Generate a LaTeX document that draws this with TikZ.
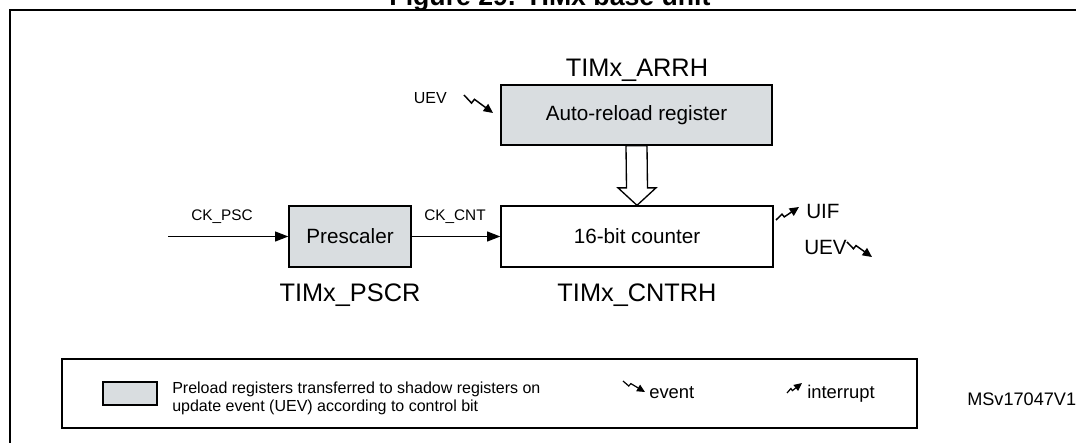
\documentclass[tikz,border=0pt]{standalone}
\usepackage{fontspec}
\setmainfont{Liberation Sans}
\usetikzlibrary{arrows.meta,calc}
\definecolor{regfill}{RGB}{217,221,224}
\begin{document}
\begin{tikzpicture}[x=0.75pt,y=-0.75pt,
  regbox/.style={draw=black, line width=1pt, minimum width=#1, minimum height=45.75pt, inner sep=0pt, font=\fontsize{15.5}{18}\selectfont},
  bigname/.style={font=\fontsize{19}{22}\selectfont, inner sep=0pt},
  sig/.style={font=\fontsize{11.5}{13}\selectfont, inner sep=0pt},
  flag/.style={font=\fontsize{15.5}{18}\selectfont, inner sep=0pt},
  legtext/.style={font=\fontsize{12}{14}\selectfont, inner sep=0pt, anchor=base west},
  legkey/.style={font=\fontsize{13.8}{16}\selectfont, inner sep=0pt, anchor=base west},
  conn/.style={line width=1pt, -{Triangle[length=10pt,width=7.5pt]}},
  zz/.style={line width=1.1pt, line join=miter, -{Triangle[length=7pt,width=6.5pt]}},
  zzs/.style={line width=0.9pt, line join=miter, -{Triangle[length=6pt,width=5.5pt]}},
  evtsym/.pic={\draw[zz] (0,0) -- (0.26,0.45) -- (0.36,0.24) -- (1,1);},
  intsym/.pic={\draw[zz] (0,0) -- (0.26,-0.45) -- (0.36,-0.24) -- (1,-1);},
  evtsmall/.pic={\draw[zzs] (0,0) -- (0.26,0.45) -- (0.36,0.24) -- (1,1);},
  intsmall/.pic={\draw[zzs] (0,0) -- (0.26,-0.45) -- (0.36,-0.24) -- (1,-1);}
]
\useasboundingbox (0,0) rectangle (1076,443);
\clip (0,0) rectangle (1076,443);
\fill[white] (0,0) rectangle (1076,443);

% title (cut at the top, as in the reference) and frame
\node[font=\bfseries\fontsize{20}{24}\selectfont, anchor=base, inner sep=0pt] (title) at (550,5.5) {Figure 29. TIMx base unit};
\draw[line width=1.75pt] (10,460) -- (10,10) -- (1100,10);

% registers
\node[regbox=203.25pt, minimum height=45pt, fill=regfill] (arr) at (636.5,115) {Auto-reload register};
\node[regbox=204pt, fill=white] (cnt) at (637,236.5) {16-bit counter};
\node[regbox=91.5pt, fill=regfill] (psc) at (350,236.5) {Prescaler};

\node[bigname] (arrname) at (637,70) {TIMx\_ARRH};
\node[bigname] (pscname) at (350,295) {TIMx\_PSCR};
\node[bigname] (cntname) at (637,295) {TIMx\_CNTRH};

% hollow transfer arrow
\draw[line width=1pt, fill=white, line join=miter]
  ($(arr.south)+(-10.5,0)$) -- ($(arr.south)+(10.5,0)$) -- ($(cnt.north)+(10.5,-17.5)$)
  -- ($(cnt.north)+(19,-17.5)$) -- (cnt.north) -- ($(cnt.north)+(-19,-17.5)$)
  -- ($(cnt.north)+(-10.5,-17.5)$) -- cycle;

% clock connectors
\coordinate (ckin) at (168,236.5);
\draw[conn] (ckin) -- (psc.west);
\draw[conn] (psc.east) -- (cnt.west);
\node[sig] (ckpsc) at (222,217) {CK\_PSC};
\node[sig] (ckcnt) at (455,217) {CK\_CNT};

% event / interrupt flags
\node[font=\fontsize{12}{14}\selectfont, inner sep=0pt, anchor=east] (uevtop) at (447,98) {UEV};
\pic[xscale=29, yscale=18] at (464,95) {evtsym};
\pic[xscale=23, yscale=13] at (776,220) {intsym};
\node[flag, anchor=west] (uif) at (806,211) {UIF};
\node[flag, anchor=west] (uevr) at (804,247) {UEV};
\pic[xscale=25, yscale=15] at (847,242) {evtsym};

% legend
\node[draw=black, line width=0.8pt, minimum width=641.25pt, minimum height=51.75pt, inner sep=0pt] (legend) at (489.5,393.5) {};
\node[draw=black, line width=1pt, fill=regfill, minimum width=40.5pt, minimum height=17.25pt, inner sep=0pt] (swatch) at (130,393.5) {};
\node[legtext] (leg1) at (172,393) {Preload registers transferred to shadow registers on};
\node[legtext] (leg2) at (172,411.5) {update event (UEV) according to control bit};
\pic[xscale=22, yscale=11] at (623,381) {evtsmall};
\node[legkey] (levt) at (649,398) {event};
\pic[xscale=15, yscale=10] at (787,393) {intsmall};
\node[legkey] (lint) at (807,398) {interrupt};

\node[font=\fontsize{13.6}{15}\selectfont, inner sep=0pt, anchor=base west] (msv) at (967,405) {MSv17047V1};
\end{tikzpicture}
\end{document}
